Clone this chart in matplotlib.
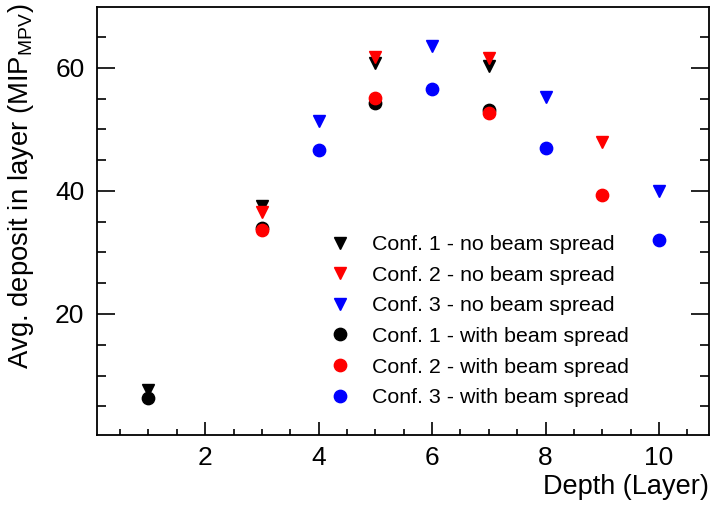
import matplotlib
matplotlib.use("Agg")
import matplotlib.pyplot as plt
from matplotlib.ticker import MultipleLocator

plt.rcParams['font.family'] = ['Liberation Sans', 'DejaVu Sans']
plt.rcParams['mathtext.fontset'] = 'custom'
plt.rcParams['mathtext.rm'] = 'Liberation Sans'
plt.rcParams['mathtext.it'] = 'Liberation Sans:italic'
plt.rcParams['mathtext.bf'] = 'Liberation Sans:bold'

# Data
layers_c1 = [1, 3, 5, 7]
c1_nospread = [7.6, 37.6, 60.8, 60.3]
c1_spread = [6.4, 33.9, 54.3, 53.2]

layers_c2 = [3, 5, 7, 9]
c2_nospread = [36.5, 61.8, 61.6, 48.0]
c2_spread = [33.7, 55.1, 52.7, 39.3]

layers_c3 = [4, 6, 8, 10]
c3_nospread = [51.4, 63.5, 55.2, 40.0]
c3_spread = [46.7, 56.5, 47.0, 32.1]

labels = ["Conf. 1 - no beam spread", "Conf. 2 - no beam spread", "Conf. 3 - no beam spread",
          "Conf. 1 - with beam spread", "Conf. 2 - with beam spread", "Conf. 3 - with beam spread"]

fig = plt.figure(figsize=(7.11, 5.05), dpi=100)
ax = fig.add_axes([97/711, 1-435/505, (709-97)/711, (435-7)/505])

tri_ms = 8.0
circ_ms = 8.9
h1, = ax.plot(layers_c1, c1_nospread, 'v', color='black', ms=tri_ms, ls='none', label=labels[0])
h2, = ax.plot(layers_c2, c2_nospread, 'v', color='red', ms=tri_ms, ls='none', label=labels[1])
h3, = ax.plot(layers_c3, c3_nospread, 'v', color='blue', ms=tri_ms, ls='none', label=labels[2])
h4, = ax.plot(layers_c1, c1_spread, 'o', color='black', ms=circ_ms, ls='none', label=labels[3])
h5, = ax.plot(layers_c2, c2_spread, 'o', color='red', ms=circ_ms, ls='none', label=labels[4])
h6, = ax.plot(layers_c3, c3_spread, 'o', color='blue', ms=circ_ms, ls='none', label=labels[5])

ax.set_xlim(0.094, 10.88)
ax.set_ylim(0.33, 69.9)

ax.xaxis.set_major_locator(MultipleLocator(2))
ax.xaxis.set_minor_locator(MultipleLocator(0.5))
ax.yaxis.set_major_locator(MultipleLocator(20))
ax.yaxis.set_minor_locator(MultipleLocator(5))

for s in ax.spines.values():
    s.set_linewidth(1.3)

ax.tick_params(axis='x', which='major', direction='in', length=9.1, width=1.2, labelsize=19, pad=8, top=False)
ax.tick_params(axis='x', which='minor', direction='in', length=4.3, width=1.2, top=False)
ax.tick_params(axis='y', which='major', direction='in', length=13, width=1.2, labelsize=19, pad=9, right=True)
ax.tick_params(axis='y', which='minor', direction='in', length=6.5, width=1.2, right=True)

fig.text(709/711, 1-500/505, "Depth (Layer)", ha='right', va='bottom', fontsize=19.5)
fig.text(6/711, 1-4/505, r"Avg. deposit in layer (MIP$_{\mathrm{MPV}}$)", rotation=90,
         ha='left', va='top', fontsize=19.8)

leg = ax.legend(handles=[h1, h2, h3, h4, h5, h6], loc='upper left',
                bbox_to_anchor=(329.6/711, 1-235/505), bbox_transform=fig.transFigure,
                frameon=False, fontsize=15.4, handlelength=1.0, handletextpad=0.98,
                borderpad=0, borderaxespad=0, labelspacing=0.545, numpoints=1)

fig.savefig("out.png", dpi=100)
